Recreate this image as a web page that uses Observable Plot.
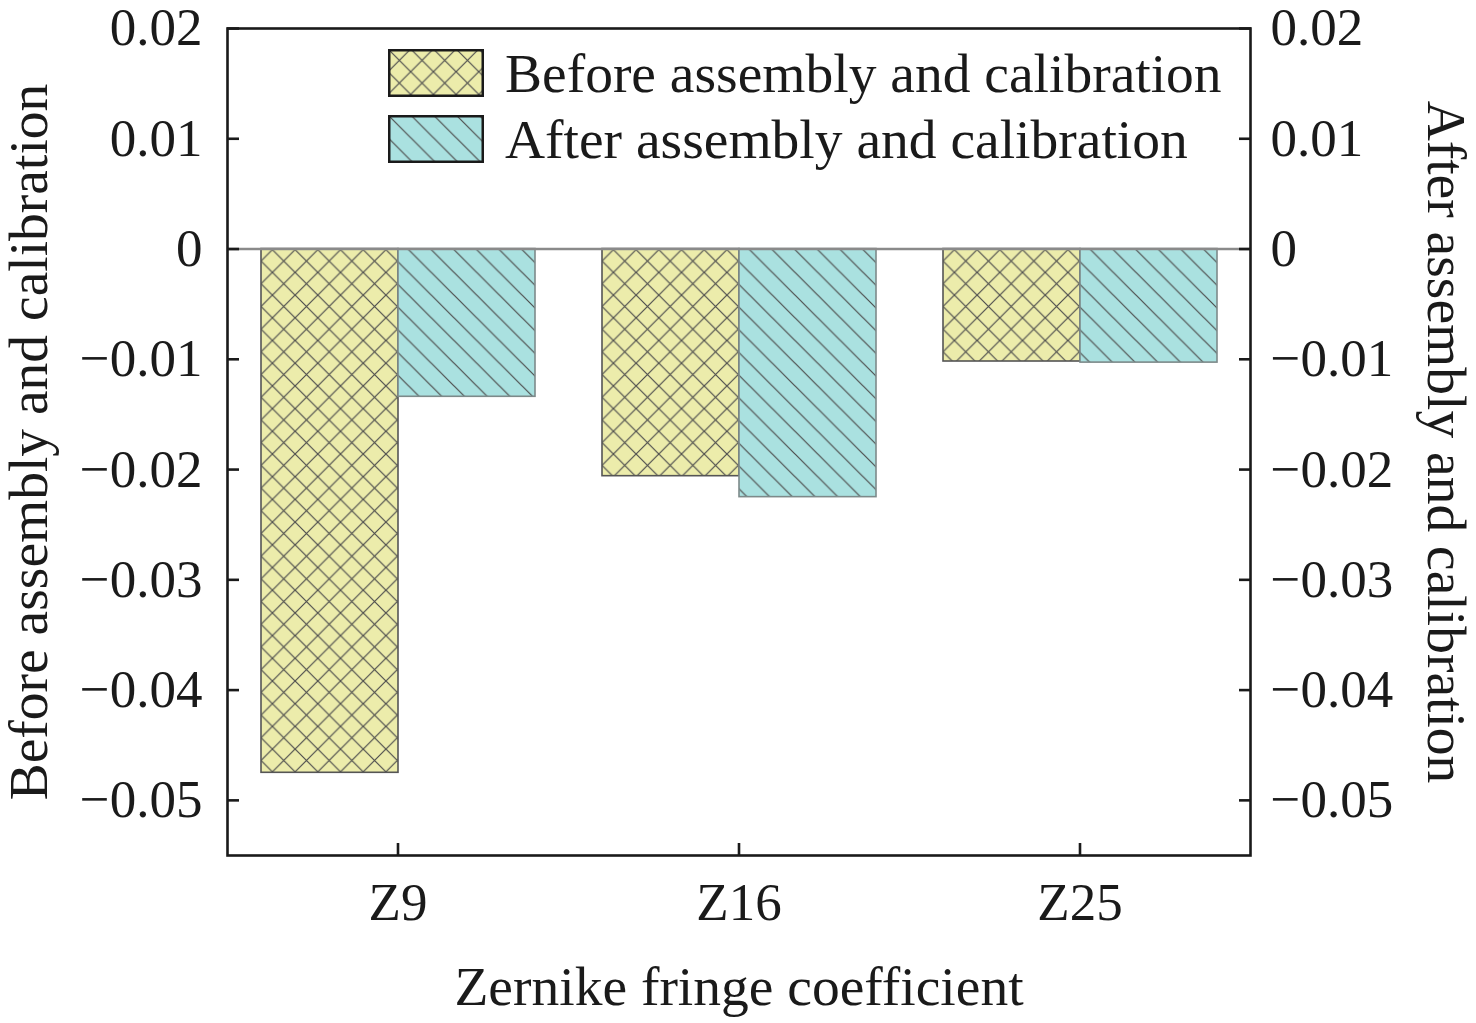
<!DOCTYPE html>
<html>
<head>
<meta charset="utf-8">
<script src="https://cdn.jsdelivr.net/npm/d3@7"></script>
<script src="https://cdn.jsdelivr.net/npm/@observablehq/plot@0.6"></script>
<style>
  body { margin: 0; background: #fff; }
  #wrap { position: relative; width: 1476px; height: 1023px; font-family: "Liberation Serif", "Times New Roman", serif; color: #1a1a1a; }
  #legend { position: absolute; left: 388px; top: 49px; }
  .item { display: flex; align-items: center; height: 48px; margin-bottom: 18px; }
  .item svg { display: block; }
  .item span { font-size: 55.5px; line-height: 55px; margin-left: 21px; white-space: nowrap; }
  g[aria-label="y-axis label"], g[aria-label="fx-axis label"] { font-size: 55.5px; }
</style>
</head>
<body>
<svg width="0" height="0" style="position:absolute">
  <defs>
    <pattern id="hatchBefore" patternUnits="userSpaceOnUse" width="22.7" height="22.7">
      <rect width="22.7" height="22.7" fill="#ececab"/>
      <path d="M-2,-2L24.7,24.7M24.7,-2L-2,24.7" stroke="#4d4d4d" stroke-width="1.2" fill="none"/>
    </pattern>
    <pattern id="hatchAfter" patternUnits="userSpaceOnUse" width="22.7" height="22.7">
      <rect width="22.7" height="22.7" fill="#aae1e0"/>
      <path d="M-2,-2L24.7,24.7M-2,20.7L2,24.7M20.7,-2L24.7,2" stroke="#4d4d4d" stroke-width="1.2" fill="none"/>
    </pattern>
  </defs>
</svg>
<div id="wrap">
  <div id="chart"></div>
  <div id="legend"></div>
</div>
<script>
const categories = ["Z9", "Z16", "Z25"];
const seriesNames = ["Before assembly and calibration", "After assembly and calibration"];
const beforeValues = [-0.0475, -0.0206, -0.0102];
const afterValues = [-0.0134, -0.0225, -0.0103];
const yTicks = [0.02, 0.01, 0, -0.01, -0.02, -0.03, -0.04, -0.05];
const seriesFills = ["url(#hatchBefore)", "url(#hatchAfter)"];
const seriesStrokes = ["#555555", "#7d8a8a"];
const rightAxisLabel = ["After assembly and calibration"];

const data = categories.flatMap((c, i) => [
  {category: c, series: seriesNames[0], value: beforeValues[i]},
  {category: c, series: seriesNames[1], value: afterValues[i]}
]);

const fmt = d => d === 0 ? "0" : d3.format(".2f")(d);

const chart = Plot.plot({
  width: 1476,
  height: 1023,
  marginLeft: 227,
  marginRight: 226,
  marginTop: 28,
  marginBottom: 168,
  style: {fontFamily: "'Liberation Serif', 'Times New Roman', serif", fontSize: "53px", color: "#1a1a1a", background: "white", overflow: "visible"},
  fx: {domain: categories, padding: 0, label: null},
  x: {domain: seriesNames, paddingInner: 0, paddingOuter: 0.24, axis: null},
  y: {domain: [-0.055, 0.02]},
  color: {domain: seriesNames, range: seriesFills},
  marks: [
    Plot.barY(data, {fx: "category", x: "series", y: "value", fill: "series",
      stroke: d => seriesStrokes[seriesNames.indexOf(d.series)], strokeWidth: 1.6}),
    Plot.ruleY([0], {stroke: "#8a8a8a", strokeWidth: 2.5}),
    Plot.frame({facet: "super", stroke: "#1a1a1a", strokeWidth: 2.6}),
    Plot.axisY(yTicks, {anchor: "left", tickSize: -12, tickPadding: 37, strokeWidth: 2.6, tickFormat: fmt,
      label: "Before assembly and calibration", labelAnchor: "center", labelOffset: 220, labelArrow: "none"}),
    Plot.axisY(yTicks, {anchor: "right", tickSize: -12, tickPadding: 32, strokeWidth: 2.6, tickFormat: fmt,
      label: null}),
    Plot.text(rightAxisLabel, {text: d => d, facet: "super", frameAnchor: "right", rotate: 90,
      dx: 195, lineAnchor: "middle", textAnchor: "middle", fontSize: 55.5, fill: "#1a1a1a"}),
    Plot.axisFx({anchor: "bottom", tickSize: -12, tickPadding: 39, strokeWidth: 2.6,
      label: "Zernike fringe coefficient", labelAnchor: "center", labelOffset: 149, labelArrow: "none"})
  ]
});
document.getElementById("chart").appendChild(chart);

const legend = d3.select("#legend");
seriesNames.forEach((name, i) => {
  const item = legend.append("div").attr("class", "item");
  const svg = item.append("svg").attr("width", 96).attr("height", 48);
  svg.append("rect").attr("x", 1.25).attr("y", 1.25).attr("width", 93.5).attr("height", 45.5)
    .attr("fill", seriesFills[i]).attr("stroke", "#1a1a1a").attr("stroke-width", 2.5);
  item.append("span").text(name);
});
</script>
</body>
</html>
